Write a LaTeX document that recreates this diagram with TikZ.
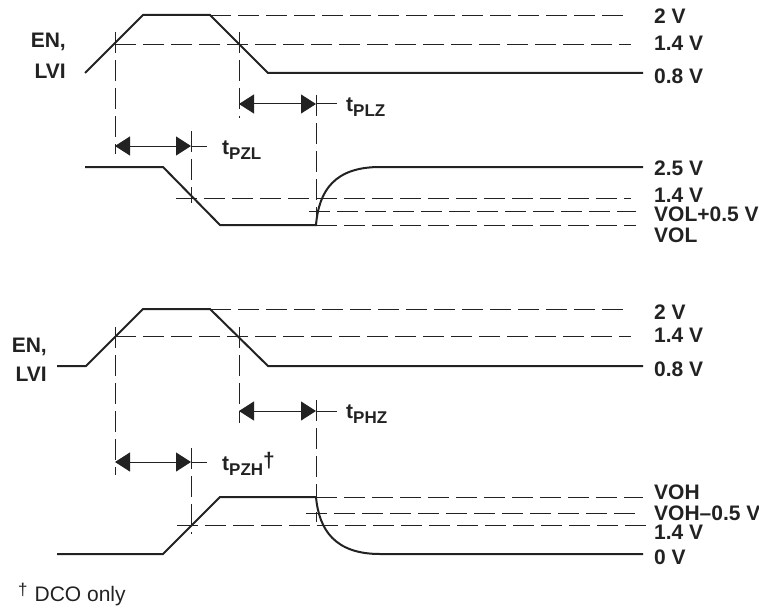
\documentclass[tikz,border=0pt]{standalone}
\usepackage{fontspec}
\setmainfont{Liberation Sans}
\usetikzlibrary{arrows.meta}
\definecolor{ink}{HTML}{222222}
\newcommand{\tlabel}[2]{t\raisebox{-5pt}{\fontsize{17}{17}\selectfont #1}#2}
\tikzset{
  wave/.style={draw=ink,line width=2pt,line join=miter},
  guide/.style={draw=ink,line width=0.9pt,dash pattern=on 21pt off 7pt},
  span/.style={draw=ink,line width=1pt,{Triangle[length=15pt,width=19pt]}-{Triangle[length=15pt,width=19pt]},shorten <=0pt,shorten >=0pt},
  stub/.style={draw=ink,line width=1pt},
  lab/.style={anchor=base west,inner sep=0pt,text=ink,font=\fontsize{21}{21}\selectfont\bfseries},
  labr/.style={anchor=base east,inner sep=0pt,text=ink,font=\fontsize{21}{21}\selectfont\bfseries},
  note/.style={anchor=base west,inner sep=0pt,text=ink,font=\fontsize{21}{21}\selectfont}
}
\begin{document}
\begin{tikzpicture}[x=1pt,y=-1pt]
\useasboundingbox (0,0) rectangle (759,607);

% ---- upper group: input ----
\coordinate (a0) at (85,73);
\coordinate (a1) at (143,15);
\coordinate (a2) at (210,15);
\coordinate (a3) at (268,73);
\coordinate (a4) at (643,73);
\draw[wave] (a0) -- (a1) -- (a2) -- (a3) -- (a4);
\coordinate (a5) at (626,15);
\draw[guide] (a2) -- (a5);
\coordinate (a6) at (115,44);
\coordinate (a7) at (631,44);
\draw[guide] (a6) -- (a7);
\coordinate (v1t) at (115,32);
\coordinate (v1b) at (115,154);
\draw[guide] (v1t) -- (v1b);
\coordinate (v2t) at (239,32);
\coordinate (v2b) at (239,118);
\draw[guide] (v2t) -- (v2b);
\coordinate (v3t) at (316,95);
\coordinate (v3b) at (316,225);
\draw[guide] (v3t) -- (v3b);
\coordinate (v4t) at (191,131);
\coordinate (v4b) at (191,203);
\draw[guide] (v4t) -- (v4b);
\coordinate (s1a) at (239,104);
\coordinate (s1b) at (316,104);
\coordinate (s1c) at (337,104);
\draw[span] (s1a) -- (s1b);
\draw[stub] (s1b) -- (s1c);
\coordinate (s2a) at (115,146);
\coordinate (s2b) at (191,146);
\coordinate (s2c) at (207,146);
\draw[span] (s2a) -- (s2b);
\draw[stub] (s2b) -- (s2c);

% ---- upper group: output ----
\coordinate (b0) at (85,167);
\coordinate (b1) at (163,167);
\coordinate (b2) at (220,225);
\coordinate (b4) at (380,167);
\coordinate (b5) at (643,167);
\draw[wave] (b0) -- (b1) -- (b2) -- (v3b) .. controls (319,190) and (335,167) .. (b4) -- (b5);
\coordinate (d1a) at (176,198);
\coordinate (d1b) at (631,198);
\draw[guide] (d1a) -- (d1b);
\coordinate (d2a) at (309,211);
\coordinate (d2b) at (636,211);
\draw[guide] (d2a) -- (d2b);
\coordinate (d3b) at (636,225);
\draw[guide] (v3b) -- (d3b);

% ---- lower group: input ----
\coordinate (c0) at (57,366);
\coordinate (c0b) at (86,366);
\coordinate (c1) at (143,309);
\coordinate (c2) at (210,309);
\coordinate (c3) at (268,366);
\coordinate (c4) at (643,366);
\draw[wave] (c0) -- (c0b) -- (c1) -- (c2) -- (c3) -- (c4);
\coordinate (c5) at (626,309);
\draw[guide] (c2) -- (c5);
\coordinate (c6) at (115,336);
\coordinate (c7) at (631,336);
\draw[guide] (c6) -- (c7);
\coordinate (w1t) at (115,327);
\coordinate (w1b) at (115,475);
\draw[guide] (w1t) -- (w1b);
\coordinate (w2t) at (239,327);
\coordinate (w2b) at (239,423);
\draw[guide] (w2t) -- (w2b);
\coordinate (w3t) at (316,400);
\coordinate (w3b) at (316,522);
\draw[guide] (w3t) -- (w3b);
\coordinate (w4t) at (191,448);
\coordinate (w4b) at (191,534);
\draw[guide] (w4t) -- (w4b);
\coordinate (s3a) at (239,411);
\coordinate (s3b) at (316,411);
\coordinate (s3c) at (337,411);
\draw[span] (s3a) -- (s3b);
\draw[stub] (s3b) -- (s3c);
\coordinate (s4a) at (115,462);
\coordinate (s4b) at (191,462);
\coordinate (s4c) at (207,462);
\draw[span] (s4a) -- (s4b);
\draw[stub] (s4b) -- (s4c);

% ---- lower group: output ----
\coordinate (e0) at (57,554);
\coordinate (e1) at (163,554);
\coordinate (e2) at (220,497);
\coordinate (e3) at (316,497);
\coordinate (e4) at (380,554);
\coordinate (e5) at (643,554);
\draw[wave] (e0) -- (e1) -- (e2) -- (e3) .. controls (319,530) and (335,554) .. (e4) -- (e5);
\coordinate (f1b) at (643,497);
\draw[guide] (e3) -- (f1b);
\coordinate (f2a) at (306,513);
\coordinate (f2b) at (637,513);
\draw[guide] (f2a) -- (f2b);
\coordinate (f3a) at (177,525);
\coordinate (f3b) at (646,525);
\draw[guide] (f3a) -- (f3b);

% ---- labels ----
\node[labr] (en1) at (66,48) {EN,};
\node[labr] (lvi1) at (66,79) {LVI};
\node[labr] (en2) at (47,352) {EN,};
\node[labr] (lvi2) at (47,381) {LVI};
\node[lab] (l1) at (654,24) {2 V};
\node[lab] (l2) at (654,51) {1.4 V};
\node[lab] (l3) at (654,84) {0.8 V};
\node[lab] (l4) at (654,175) {2.5 V};
\node[lab] (l5) at (654,202) {1.4 V};
\node[lab] (l6) at (654,221) {VOL+0.5 V};
\node[lab] (l7) at (654,242) {VOL};
\node[lab] (l8) at (654,319) {2 V};
\node[lab] (l9) at (654,342) {1.4 V};
\node[lab] (l10) at (654,376) {0.8 V};
\node[lab] (l11) at (654,499) {VOH};
\node[lab] (l12) at (654,520) {VOH–0.5 V};
\node[lab] (l13) at (654,539) {1.4 V};
\node[lab] (l14) at (654,564) {0 V};
\node[lab] (t1) at (346,111) {\tlabel{PLZ}{}};
\node[lab] (t2) at (222,154) {\tlabel{PZL}{}};
\node[lab] (t3) at (346,418) {\tlabel{PHZ}{}};
\node[lab] (t4) at (222,470) {\tlabel{PZH}{\raisebox{3pt}{†}}};
\node[note] (fn) at (18,601) {\raisebox{6pt}{\fontsize{17}{17}\selectfont †}\hspace{7pt}DCO only};
\end{tikzpicture}
\end{document}
